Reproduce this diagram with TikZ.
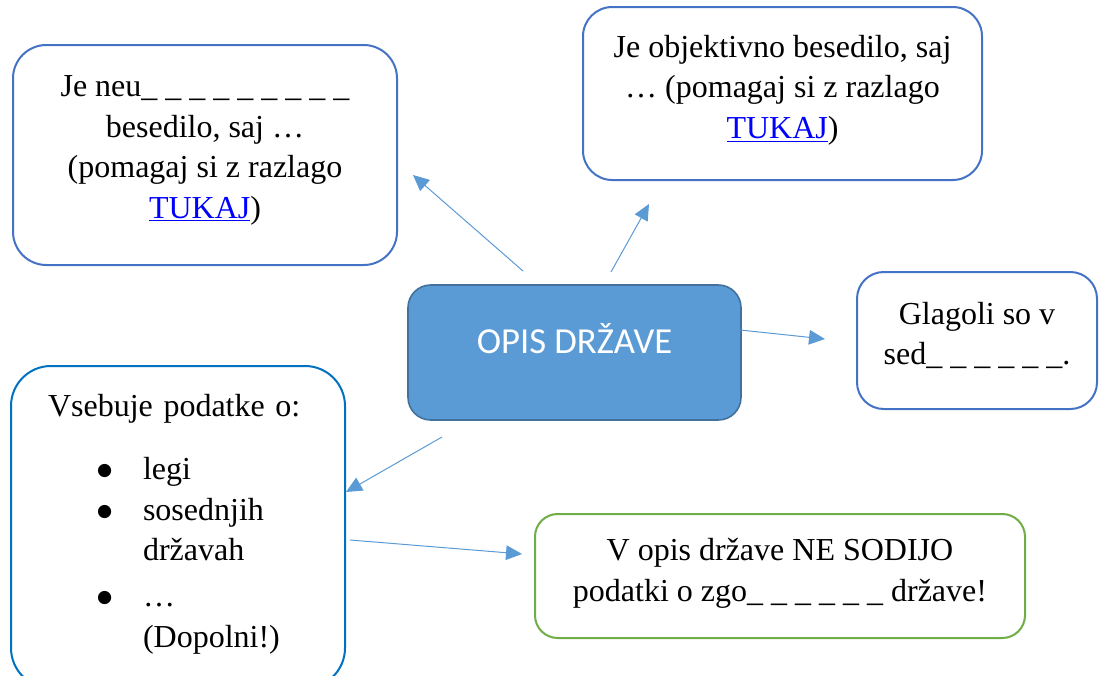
\documentclass[tikz,border=0pt]{standalone}
\usepackage{fontspec}
\setmainfont{Liberation Serif}
\newfontfamily\calibri{Carlito}
\newfontfamily\symbolsfont{DejaVu Sans}
\usetikzlibrary{arrows.meta}
\definecolor{boxblue}{HTML}{4472C4}
\definecolor{listblue}{HTML}{0070C0}
\definecolor{boxgreen}{HTML}{70AD47}
\definecolor{mainfill}{HTML}{5B9BD5}
\definecolor{mainedge}{HTML}{41719C}
\definecolor{linkblue}{HTML}{0000FF}
\newcommand{\link}[1]{\textcolor{linkblue}{\underline{#1}}}
\newcommand{\lift}[1]{\rule[-#1]{0pt}{0pt}}
\newcommand{\dotmark}{\raisebox{3pt}{\symbolsfont\fontsize{13}{13}\selectfont ●}}
\tikzset{>={Triangle[length=12pt,width=11pt]}}
\tikzset{
  note/.style={draw=boxblue, line width=1.5pt, align=center, inner sep=0pt,
    font=\fontsize{24}{30.5}\selectfont},
  pointer/.style={->, draw=mainfill, line width=0.75pt}
}

\begin{document}
\begin{tikzpicture}[x=0.75pt, y=-0.75pt]
    \useasboundingbox (0,0) rectangle (1099,675);
    % middle
    \node[fill=mainfill, draw=mainedge, line width=1.2pt, rounded corners=17pt,
      minimum width=249.75pt, minimum height=101.25pt, inner sep=0pt, text=white,
      font=\calibri\fontsize{27.5}{33}\selectfont] (opis) at (574.5,352.5)
      {OPIS DRŽAVE\lift{21pt}};
    % boxes round it
    \node[note, rounded corners=25pt, minimum width=288pt, minimum height=165pt] (neutral) at (205,155)
      {Je neu\_ \_ \_ \_ \_ \_ \_ \_ \_\\ besedilo, saj …\\ (pomagaj si z razlago\\ \link{TUKAJ})\lift{12pt}};
    \node[note, rounded corners=22pt, minimum width=299.25pt, minimum height=129.75pt] (objective) at (782.5,93.5)
      {Je objektivno besedilo, saj\\ … (pomagaj si z razlago\\ \link{TUKAJ})\lift{10pt}};
    \node[note, rounded corners=20pt, minimum width=180pt, minimum height=102.75pt] (verbs) at (977,340.5)
      {Glagoli so v\\ sed\_ \_ \_ \_ \_ \_.\lift{10.5pt}};
    \node[note, draw=boxgreen, rounded corners=17pt, minimum width=367.5pt, minimum height=93pt] (notin) at (780,576)
      {V opis države NE SODIJO\\ podatki o zgo\_ \_ \_ \_ \_ \_ države!\lift{9pt}};
    \node[note, draw=listblue, align=left, text width=195pt, rounded corners=30pt,
      minimum width=250.5pt, minimum height=241.5pt] (contents) at (178,527)
      {Vsebuje podatke o:\par\vspace{16.5pt}
       \begin{tabular}[t]{@{\hspace{36.75pt}}p{34.5pt}@{}l@{}}
       \dotmark & legi\\
       \dotmark & sosednjih\\
       & državah\\[4pt]
       \dotmark & …\\
       & (Dopolni!)
       \end{tabular}};
    % arrow ends
    \coordinate (from1) at (523,271);
    \coordinate (to1) at (413,175);
    \coordinate (from2) at (611,272);
    \coordinate (to2) at (649,204);
    \coordinate (from3) at (740,330);
    \coordinate (to3) at (825,339);
    \coordinate (from4) at (442,437);
    \coordinate (to4) at (346,492);
    \coordinate (from5) at (350,540);
    \coordinate (to5) at (522,554);
    \draw[pointer] (from1) -- (to1);
    \draw[pointer] (from2) -- (to2);
    \draw[pointer] (from3) -- (to3);
    \draw[pointer] (from4) -- (to4);
    \draw[pointer] (from5) -- (to5);
\end{tikzpicture}
\end{document}
